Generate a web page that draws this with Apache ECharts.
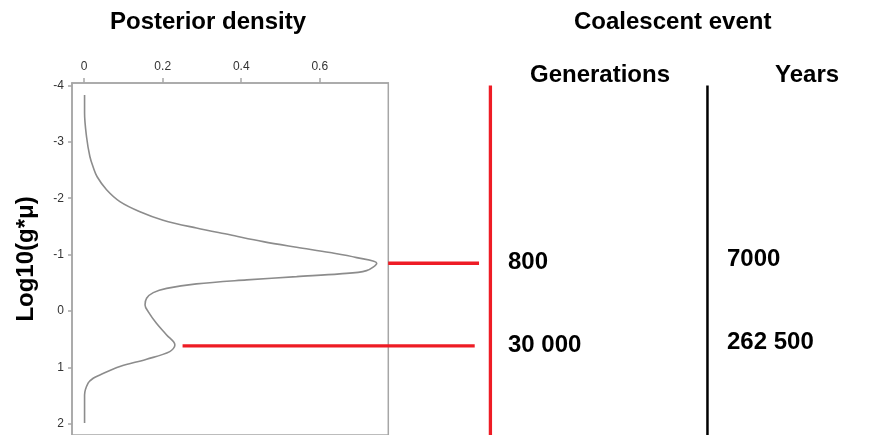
<!DOCTYPE html>
<html>
<head>
<meta charset="utf-8">
<script src="https://cdn.jsdelivr.net/npm/echarts@6/dist/echarts.min.js"></script>
<style>
  html, body { margin: 0; padding: 0; background: #fff; }
  #chart { width: 895px; height: 435px; }
</style>
</head>
<body>
<div id="chart"></div>
<script>
// Posterior density of log10(g*mu), read along the vertical axis
const logGmu = [-3.83, -3.51, -3.09, -2.74, -2.55, -2.38, -2.15, -1.94, -1.76, -1.61, -1.47, -1.35, -1.23, -1.13, -1.035, -0.946, -0.846,
  -0.715, -0.657, -0.609, -0.55, -0.479, -0.40, -0.325, -0.225, -0.106, 0.012, 0.219, 0.426, 0.603, 0.722, 0.857, 0.988, 1.136, 1.195, 1.28, 1.49, 1.99];
const density = [0.001, 0.001, 0.006, 0.0145, 0.023, 0.033, 0.057, 0.091, 0.142, 0.201, 0.286, 0.371, 0.456, 0.541, 0.626, 0.694, 0.745,
  0.719, 0.651, 0.541, 0.414, 0.286, 0.21, 0.176, 0.159, 0.155, 0.163, 0.184, 0.21, 0.231, 0.218, 0.159, 0.091, 0.04, 0.023, 0.010, 0.001, 0.001];

// Axis ticks
const densityTicks = [0, 0.2, 0.4, 0.6];
const logTicks = [-4, -3, -2, -1, 0, 1, 2];

// Coalescent events at the two modes
const peakLog = [-0.846, 0.62];
const generations = ['800', '30 000'];
const years = ['7000', '262 500'];

const FONT = '"Liberation Sans", Arial, sans-serif';
const frameColor = '#a6a6a6';

const Y_MIN = -4.044, Y_MAX = 2.2;
const curve = logGmu.map((y, i) => [density[i], y]);

const chart = echarts.init(document.getElementById('chart'), null, { renderer: 'canvas' });

const titleStyle = { fontFamily: FONT, fontWeight: 'bold', fontSize: 24, fill: '#000' };
const hiddenAxis = { show: false, axisLine: { show: false }, axisTick: { show: false }, axisLabel: { show: false }, splitLine: { show: false } };

chart.setOption({
  animation: false,
  backgroundColor: '#fff',
  grid: [
    {
      left: 72, top: 83, width: 316.3, height: 351.9,
      show: true, borderColor: frameColor, borderWidth: 1.5, backgroundColor: 'transparent'
    },
    // annotation layer: same scales, stretched across the whole width
    { left: 72, top: 83, width: 823, height: 351.9, show: false }
  ],
  xAxis: [
    {
      type: 'value', position: 'top', min: -0.031, max: 0.7745, gridIndex: 0,
      axisLine: { show: true, onZero: false, lineStyle: { color: frameColor, width: 1.5 } },
      axisTick: { show: true, length: 5, lineStyle: { color: frameColor, width: 1.5 }, customValues: densityTicks },
      axisLabel: { fontFamily: FONT, fontSize: 12, color: '#333', margin: 10, customValues: densityTicks },
      splitLine: { show: false }
    },
    Object.assign({ type: 'value', gridIndex: 1, min: -0.031, max: 2.0658 }, hiddenAxis)
  ],
  yAxis: [
    {
      type: 'value', inverse: true, min: Y_MIN, max: Y_MAX, gridIndex: 0,
      name: 'Log10(g*\u03bc)', nameLocation: 'middle', nameGap: 34, nameRotate: 90,
      nameTextStyle: { fontFamily: FONT, fontWeight: 'bold', fontSize: 24, color: '#000' },
      axisLine: { show: true, onZero: false, lineStyle: { color: frameColor, width: 1.5 } },
      axisTick: { show: true, length: 4, lineStyle: { color: frameColor, width: 1.5 }, customValues: logTicks },
      axisLabel: { fontFamily: FONT, fontSize: 12, color: '#333', margin: 8, customValues: logTicks },
      splitLine: { show: false }
    },
    Object.assign({ type: 'value', gridIndex: 1, inverse: true, min: Y_MIN, max: Y_MAX }, hiddenAxis)
  ],
  series: [
    {
      type: 'line', data: curve, smooth: 0.35, showSymbol: false,
      xAxisIndex: 0, yAxisIndex: 0,
      lineStyle: { color: '#8c8c8c', width: 1.6 }
    },
    {
      // link from the upper mode to the generations scale
      type: 'line', showSymbol: false, xAxisIndex: 1, yAxisIndex: 1,
      data: [[0.7745, peakLog[0]], [1.006, peakLog[0]]],
      lineStyle: { color: '#ee1c25', width: 3.3 }
    },
    {
      // link from the lower mode to the generations scale
      type: 'line', showSymbol: false, xAxisIndex: 1, yAxisIndex: 1,
      data: [[0.2507, peakLog[1]], [0.995, peakLog[1]]],
      lineStyle: { color: '#ee1c25', width: 3.3 }
    },
    {
      // generations scale
      type: 'line', showSymbol: false, xAxisIndex: 1, yAxisIndex: 1,
      data: [[1.035, -4.0], [1.035, Y_MAX]],
      lineStyle: { color: '#ee1c25', width: 3.3 }
    },
    {
      // years scale
      type: 'line', showSymbol: false, xAxisIndex: 1, yAxisIndex: 1,
      data: [[1.588, -4.0], [1.588, Y_MAX]],
      lineStyle: { color: '#000', width: 2.5 }
    }
  ],
  graphic: [
    { type: 'text', left: 110, top: 10, style: Object.assign({ text: 'Posterior density' }, titleStyle) },
    { type: 'text', left: 574, top: 10, style: Object.assign({ text: 'Coalescent event' }, titleStyle) },
    { type: 'text', left: 530, top: 63, style: Object.assign({ text: 'Generations' }, titleStyle) },
    { type: 'text', left: 775, top: 63, style: Object.assign({ text: 'Years' }, titleStyle) },
    { type: 'text', left: 508, top: 250, style: Object.assign({ text: generations[0] }, titleStyle) },
    { type: 'text', left: 508, top: 333, style: Object.assign({ text: generations[1] }, titleStyle) },
    { type: 'text', left: 727, top: 247, style: Object.assign({ text: years[0] }, titleStyle) },
    { type: 'text', left: 727, top: 330, style: Object.assign({ text: years[1] }, titleStyle) }
  ]
});
</script>
</body>
</html>
